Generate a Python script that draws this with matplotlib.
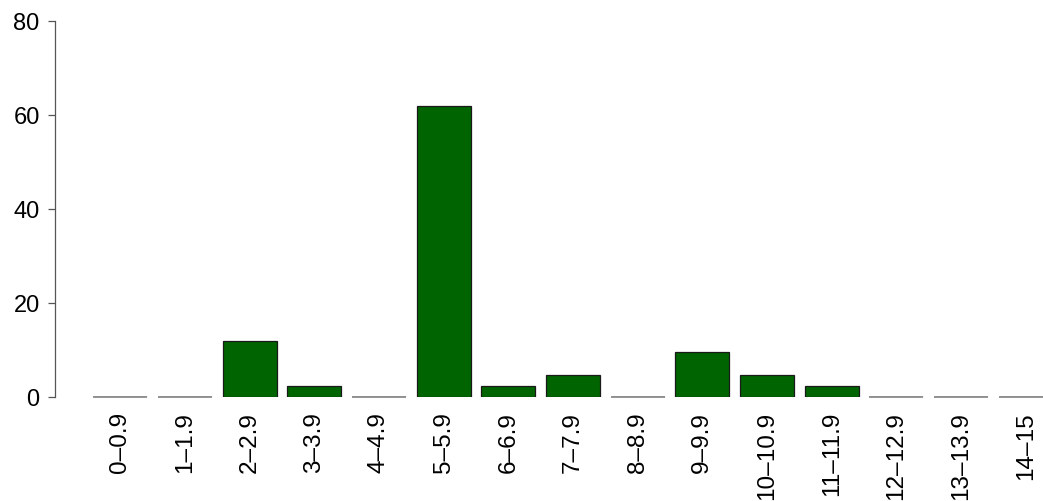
import matplotlib
matplotlib.use("Agg")
import matplotlib.pyplot as plt
import numpy as np

categories = ["0–0.9", "1–1.9", "2–2.9", "3–3.9", "4–4.9", "5–5.9", "6–6.9",
              "7–7.9", "8–8.9", "9–9.9", "10–10.9", "11–11.9", "12–12.9",
              "13–13.9", "14–15"]
values = [0, 0, 11.9, 2.38, 0, 61.9, 2.38, 4.76, 0, 9.52, 4.76, 2.38, 0, 0, 0]
yticks = [0, 20, 40, 60, 80]

plt.rcParams['font.family'] = ['Liberation Sans', 'DejaVu Sans']

W, H = 1043, 502
fig = plt.figure(figsize=(W / 100, H / 100), dpi=100)
px_per_unit = 53.9
x0_px = 82.5
xmax = 18.2
ax = fig.add_axes([x0_px / W, (H - 398) / H, xmax * px_per_unit / W, 376 / H])

x = 0.7 + 1.2 * np.arange(len(categories))
ax.bar(x, values, width=1.0, color="#006400", edgecolor="#1a1a1a", linewidth=0.9)
# zero-height bars are drawn by R as a flat outline
for xi, v in zip(x, values):
    if v == 0:
        ax.plot([xi - 0.5, xi + 0.5], [v, v], color="#777777", linewidth=1.1,
                solid_capstyle="butt", clip_on=False)

ax.set_xlim(0, xmax)
ax.set_ylim(0, 80)
for s in ["top", "right", "bottom"]:
    ax.spines[s].set_visible(False)
ax.spines["left"].set_position(("outward", 27.5 * 0.72))
ax.spines["left"].set_color("#555555")
ax.spines["left"].set_linewidth(0.9)
ax.set_yticks(yticks)
ax.set_yticklabels([str(v) for v in yticks], fontsize=17)
ax.tick_params(axis="y", length=5, width=0.9, color="#555555", pad=6)

ax.set_xticks(x)
ax.set_xticklabels(categories, rotation=90, fontsize=17.5, va="top", ha="center")
ax.tick_params(axis="x", length=0, pad=10)

fig.savefig("out.png", dpi=100)
